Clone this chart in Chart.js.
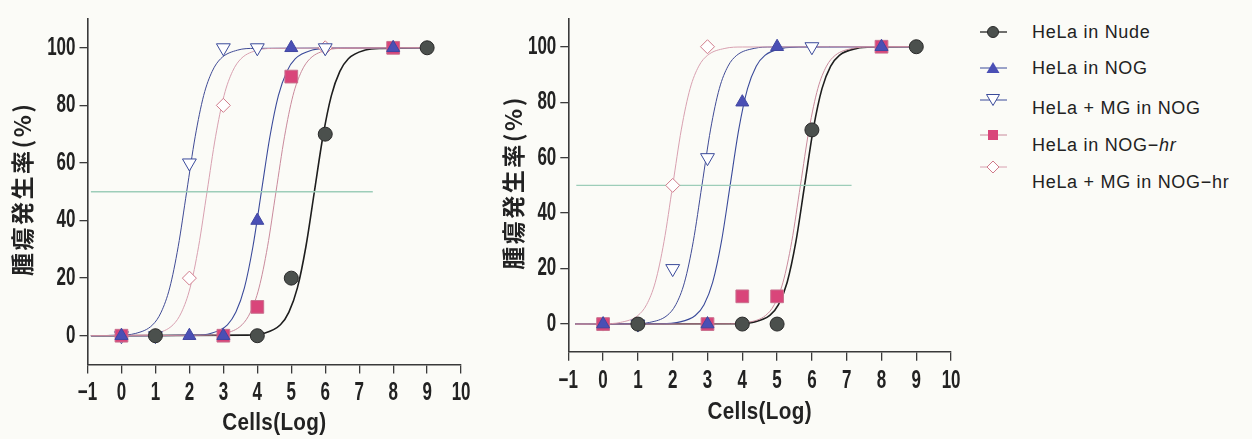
<!DOCTYPE html>
<html>
<head>
<meta charset="utf-8">
<script src="https://cdn.jsdelivr.net/npm/chart.js@4.4.1/dist/chart.umd.min.js"></script>
<style>
    html, body { margin: 0; padding: 0; background: #fbfbf7; }
    #wrap { position: relative; width: 1252px; height: 439px; overflow: hidden; }
    #wrap canvas { position: absolute; top: 0; }
    .lg-mark { position: absolute; left: 978px; }
    .lg-text {
        position: absolute; left: 1032px; height: 20px; line-height: 20px;
        font-family: 'Liberation Sans', Arial, sans-serif; font-size: 18px;
        letter-spacing: 0.7px; color: #222; white-space: nowrap;
    }
</style>
</head>
<body>
<div id="wrap">
    <canvas id="chart-left" width="480" height="439" style="left:0px"></canvas>
    <canvas id="chart-right" width="480" height="439" style="left:490px"></canvas>

    <svg class="lg-mark" style="top:22px" width="30" height="20">
        <line x1="2" y1="10" x2="29" y2="10" stroke="#222" stroke-width="1.3"/>
        <circle cx="15" cy="10" r="5.5" fill="#4b504d" stroke="#2a2a2a" stroke-width="1"/>
    </svg>
    <div class="lg-text" style="top:22px">HeLa in Nude</div>

    <svg class="lg-mark" style="top:58px" width="30" height="20">
        <line x1="2" y1="10" x2="29" y2="10" stroke="#3a4a9a" stroke-width="1"/>
        <polygon points="15,4 21.5,15 8.5,15" fill="#4a4fb5"/>
    </svg>
    <div class="lg-text" style="top:58px">HeLa in NOG</div>

    <svg class="lg-mark" style="top:90px" width="30" height="20">
        <line x1="2" y1="10" x2="29" y2="10" stroke="#3a4a9a" stroke-width="1"/>
        <polygon points="8.5,4.5 21.5,4.5 15,15.5" fill="#fff" stroke="#3a4a9a" stroke-width="1"/>
    </svg>
    <div class="lg-text" style="top:98px">HeLa + MG in NOG</div>

    <svg class="lg-mark" style="top:125px" width="30" height="20">
        <line x1="2" y1="10" x2="29" y2="10" stroke="#c98a9c" stroke-width="1"/>
        <rect x="10" y="5" width="10" height="10" fill="#d9457a"/>
    </svg>
    <div class="lg-text" style="top:135px">HeLa in NOG&minus;<i>hr</i></div>

    <svg class="lg-mark" style="top:157px" width="30" height="20">
        <line x1="2" y1="10" x2="29" y2="10" stroke="#d8a0b0" stroke-width="1"/>
        <polygon points="15,4 21,10 15,16 9,10" fill="#fff" stroke="#d07a8a" stroke-width="1"/>
    </svg>
    <div class="lg-text" style="top:172px">HeLa + MG in NOG&minus;hr</div>
</div>

<script>
// ---- data ----
const xTicks = [-1, 0, 1, 2, 3, 4, 5, 6, 7, 8, 9, 10];
const yTicks = [0, 20, 40, 60, 80, 100];

// left panel: observed points
const leftNudeX = [1, 4, 5, 6, 9];
const leftNudeY = [0, 0, 20, 70, 100];
const leftNogX = [0, 2, 3, 4, 5, 8];
const leftNogY = [0, 0, 0, 40, 100, 100];
const leftMgNogX = [0, 1, 2, 3, 4, 6];
const leftMgNogY = [0, 0, 60, 100, 100, 100];
const leftNogHrX = [0, 3, 4, 5, 8];
const leftNogHrY = [0, 0, 10, 90, 100];
const leftMgNogHrX = [0, 1, 2, 3, 6];
const leftMgNogHrY = [0, 0, 20, 80, 100];

// left panel: fitted curves
const leftCurveY = [0, 0.2, 0.8, 3.8, 8.2, 16.6, 30.9, 50, 69.1, 83.4, 91.8, 96.2, 99.2, 99.8, 100];
const leftMgNogCurveX = [-0.9, -0.08, 0.42, 0.92, 1.17, 1.42, 1.67, 1.92, 2.17, 2.42, 2.67, 2.92, 3.42, 3.92, 9];
const leftMgNogHrCurveX = [-0.9, 0.52, 1.02, 1.52, 1.77, 2.02, 2.27, 2.52, 2.77, 3.02, 3.27, 3.52, 4.02, 4.52, 9];
const leftNogCurveX = [-0.9, 2.12, 2.62, 3.12, 3.37, 3.62, 3.87, 4.12, 4.37, 4.62, 4.87, 5.12, 5.62, 6.12, 9];
const leftNogHrCurveX = [-0.9, 2.55, 3.05, 3.55, 3.8, 4.05, 4.3, 4.55, 4.8, 5.05, 5.3, 5.55, 6.05, 6.55, 9];
const leftNudeCurveX = [-0.9, 3.68, 4.18, 4.68, 4.93, 5.18, 5.43, 5.68, 5.93, 6.18, 6.43, 6.68, 7.18, 7.68, 9];
const leftHalfX = [-0.9, 7.4];

// right panel: observed points
const rightNudeX = [1, 4, 5, 6, 9];
const rightNudeY = [0, 0, 0, 70, 100];
const rightNogX = [0, 3, 4, 5, 8];
const rightNogY = [0, 0, 80, 100, 100];
const rightMgNogX = [1, 2, 3, 6];
const rightMgNogY = [0, 20, 60, 100];
const rightNogHrX = [0, 3, 4, 5, 8];
const rightNogHrY = [0, 0, 10, 10, 100];
const rightMgNogHrX = [0, 2, 3];
const rightMgNogHrY = [0, 50, 100];

// right panel: fitted curves
const rightCurveY = [0, 0.1, 0.6, 3.1, 7.0, 15.1, 29.7, 50, 70.3, 84.9, 93.0, 96.9, 99.4, 99.9, 100];
const rightMgNogHrCurveX = [-0.8, 0, 0.5, 1, 1.25, 1.5, 1.75, 2, 2.25, 2.5, 2.75, 3, 3.5, 4, 9];
const rightMgNogCurveX = [-0.8, 0.84, 1.34, 1.84, 2.09, 2.34, 2.59, 2.84, 3.09, 3.34, 3.59, 3.84, 4.34, 4.84, 9];
const rightNogCurveX = [-0.8, 1.65, 2.15, 2.65, 2.9, 3.15, 3.4, 3.65, 3.9, 4.15, 4.4, 4.65, 5.15, 5.65, 9];
const rightNogHrCurveX = [-0.8, 3.67, 4.17, 4.67, 4.92, 5.17, 5.42, 5.67, 5.92, 6.17, 6.42, 6.67, 7.17, 7.67, 9];
const rightNudeCurveX = [-0.8, 3.79, 4.29, 4.79, 5.04, 5.29, 5.54, 5.79, 6.04, 6.29, 6.54, 6.79, 7.29, 7.79, 9];
const rightHalfX = [-0.77, 7.14];

// ---- styling ----
const NUM_FONT = "'Liberation Sans', Arial, sans-serif";
const CJK_FONT = "'Noto Sans CJK JP', sans-serif";
const AXIS_COLOR = '#3a3a3a';
const TICK_SQUEEZE = 0.68;   // the original numbers use a narrow gothic face
const TITLE_SQUEEZE = 0.86;

const pts = (xs, ys) => xs.map((x, i) => ({ x: x, y: ys[i] }));

// draw text narrower / spaced, without moving its anchor point
function shapedText(ctx, factor, spacing, shiftY, fn) {
    ctx.save();
    if (spacing) ctx.letterSpacing = spacing;
    ctx.translate(0, shiftY);
    const fill = CanvasRenderingContext2D.prototype.fillText;
    ctx.fillText = function(text, x, y) {
        this.save();
        this.scale(factor, 1);
        fill.call(this, text, x / factor, y);
        this.restore();
    };
    fn();
    delete ctx.fillText;
    ctx.restore();
}

const textShape = {
    id: 'textShape',
    beforeDraw(chart) {
        Object.values(chart.scales).forEach(scale => {
            if (scale._shaped) return;
            const drawLabels = scale.drawLabels;
            const drawTitle = scale.drawTitle;
            scale.drawLabels = function(...args) {
                shapedText(this.ctx, TICK_SQUEEZE, null, 0, () => drawLabels.apply(this, args));
            };
            scale.drawTitle = function(...args) {
                const isY = this.axis === 'y';
                shapedText(this.ctx, isY ? 1 : TITLE_SQUEEZE, isY ? '2.5px' : '0.4px', isY ? -3 : 0,
                    () => drawTitle.apply(this, args));
            };
            scale._shaped = true;
        });
    }
};

function curve(xs, ys, color, width) {
    return {
        data: pts(xs, ys),
        borderColor: color,
        borderWidth: width,
        pointRadius: 0,
        showLine: true,
        cubicInterpolationMode: 'monotone',
        order: 10
    };
}

function markers(xs, ys, style, opts) {
    return Object.assign({
        data: pts(xs, ys),
        showLine: false,
        pointStyle: style,
        pointBorderWidth: 1
    }, opts);
}

function makeChart(id, d, box) {
    const ctx = document.getElementById(id).getContext('2d');
    const numFont = { family: NUM_FONT, size: 25, weight: 'bold' };
    return new Chart(ctx, {
        type: 'line',
        data: {
            datasets: [
                curve(d.halfX, [50, 50], '#9dcdb9', 1.4),
                curve(d.nogHrCurveX, d.curveY, '#c98a9c', 1),
                curve(d.mgNogHrCurveX, d.curveY, '#d8a0b0', 1),
                curve(d.mgNogCurveX, d.curveY, '#3f4a95', 1),
                curve(d.nogCurveX, d.curveY, '#3a4a9a', 1.1),
                curve(d.nudeCurveX, d.curveY, '#1e1e1e', 1.6),
                markers(d.mgNogHrX, d.mgNogHrY, 'rectRot', {
                    pointRadius: 7, backgroundColor: '#ffffff', borderColor: '#d07a8a', order: 5
                }),
                markers(d.mgNogX, d.mgNogY, 'triangle', {
                    pointRadius: 8, pointRotation: 180, backgroundColor: '#ffffff', borderColor: '#3a4a9a', order: 4
                }),
                markers(d.nogHrX, d.nogHrY, 'rect', {
                    pointRadius: 9, backgroundColor: '#d9457a', borderColor: '#c9708e', order: 3
                }),
                markers(d.nudeX, d.nudeY, 'circle', {
                    pointRadius: 7, backgroundColor: '#4b504d', borderColor: '#2a2a2a', order: 2
                }),
                markers(d.nogX, d.nogY, 'triangle', {
                    pointRadius: 7.5, backgroundColor: '#4a4fb5', borderColor: '#4046a0', order: 1
                })
            ]
        },
        options: {
            responsive: false,
            animation: false,
            devicePixelRatio: 1,
            layout: {
                padding: { left: 0, top: box.top, right: box.right, bottom: 0 }
            },
            plugins: {
                legend: { display: false },
                tooltip: { enabled: false }
            },
            scales: {
                x: {
                    type: 'linear',
                    min: -1,
                    max: 10,
                    afterBuildTicks: s => { s.ticks = xTicks.map(v => ({ value: v })); },
                    afterFit: s => { s.height = box.xHeight; },
                    ticks: {
                        color: '#222',
                        padding: 5,
                        maxRotation: 0,
                        autoSkip: false,
                        font: numFont,
                        callback: v => (v < 0 ? '\u2212' + Math.abs(v) : String(v))
                    },
                    grid: {
                        drawOnChartArea: false,
                        drawTicks: true,
                        tickLength: 9,
                        color: AXIS_COLOR,
                        lineWidth: 1.3
                    },
                    border: { display: true, color: AXIS_COLOR, width: 1.6 },
                    title: {
                        display: true,
                        text: 'Cells(Log)',
                        color: '#222',
                        font: { family: NUM_FONT, size: 24, weight: 'bold' },
                        padding: { top: 0, bottom: box.xTitlePad }
                    }
                },
                y: {
                    type: 'linear',
                    min: -10,
                    max: 110,
                    afterBuildTicks: s => { s.ticks = yTicks.map(v => ({ value: v })); },
                    afterFit: s => { s.width = box.yWidth; },
                    ticks: {
                        color: '#222',
                        padding: 4,
                        font: numFont
                    },
                    grid: {
                        drawOnChartArea: false,
                        drawTicks: true,
                        tickLength: 8,
                        color: AXIS_COLOR,
                        lineWidth: 1.3
                    },
                    border: { display: true, color: AXIS_COLOR, width: 1.6 },
                    title: {
                        display: true,
                        text: '腫瘍発生率(%)',
                        color: '#222',
                        font: { family: CJK_FONT, size: 23, weight: 'bold' },
                        padding: { top: box.yTitlePad, bottom: 0 }
                    }
                }
            }
        },
        plugins: [textShape]
    });
}

makeChart('chart-left', {
    curveY: leftCurveY,
    halfX: leftHalfX,
    nudeCurveX: leftNudeCurveX, nogCurveX: leftNogCurveX, mgNogCurveX: leftMgNogCurveX,
    nogHrCurveX: leftNogHrCurveX, mgNogHrCurveX: leftMgNogHrCurveX,
    nudeX: leftNudeX, nudeY: leftNudeY,
    nogX: leftNogX, nogY: leftNogY,
    mgNogX: leftMgNogX, mgNogY: leftMgNogY,
    nogHrX: leftNogHrX, nogHrY: leftNogHrY,
    mgNogHrX: leftMgNogHrX, mgNogHrY: leftMgNogHrY
}, { top: 18, right: 14, yWidth: 87.5, xHeight: 74.5, xTitlePad: 1, yTitlePad: 8 });

makeChart('chart-right', {
    curveY: rightCurveY,
    halfX: rightHalfX,
    nudeCurveX: rightNudeCurveX, nogCurveX: rightNogCurveX, mgNogCurveX: rightMgNogCurveX,
    nogHrCurveX: rightNogHrCurveX, mgNogHrCurveX: rightMgNogHrCurveX,
    nudeX: rightNudeX, nudeY: rightNudeY,
    nogX: rightNogX, nogY: rightNogY,
    mgNogX: rightMgNogX, mgNogY: rightMgNogY,
    nogHrX: rightNogHrX, nogHrY: rightNogHrY,
    mgNogHrX: rightMgNogHrX, mgNogHrY: rightMgNogHrY
}, { top: 10, right: 16.7, yWidth: 78.3, xHeight: 87.2, xTitlePad: 12, yTitlePad: 9.5 });
</script>
</body>
</html>
